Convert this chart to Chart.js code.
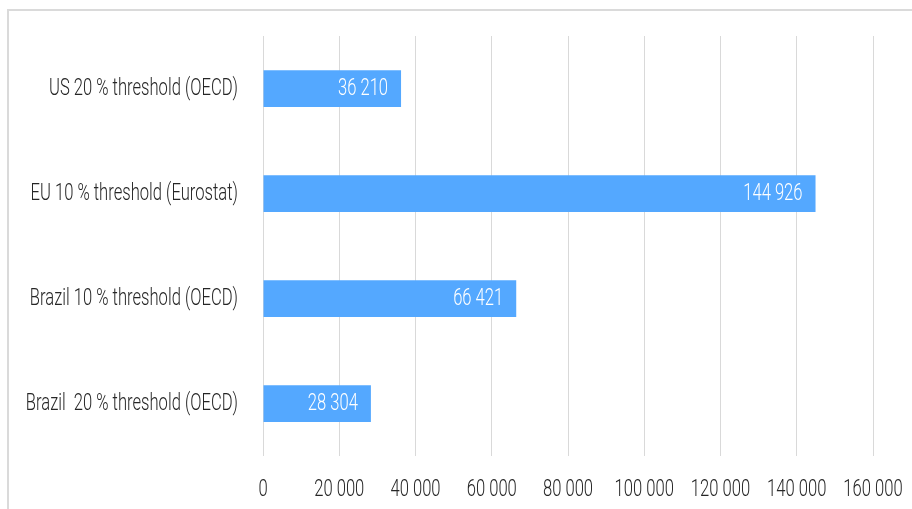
<!DOCTYPE html>
<html>
<head>
<meta charset="utf-8">
<script src="https://cdn.jsdelivr.net/npm/chart.js@4"></script>
<style>
    body { margin: 0; background: #fff; overflow: hidden; }
    #frame { position: absolute; left: 7px; top: 9px; width: 1000px; height: 600px; border: 2px solid #dadada; }
    #wrap { position: absolute; left: 0; top: 0; width: 912px; height: 509px; }
</style>
</head>
<body>
<div id="frame"></div>
<div id="wrap"><canvas id="myChart" width="912" height="509"></canvas></div>
<script>
// categories and values
var categories = [
    'US 20 % threshold (OECD)',
    'EU 10 % threshold (Eurostat)',
    'Brazil 10 % threshold (OECD)',
    'Brazil  20 % threshold (OECD)'
];
var values = [36210, 144926, 66421, 28304];
var xTicks = [0, 20000, 40000, 60000, 80000, 100000, 120000, 140000, 160000];

// the original uses a condensed face, so a normal one is squeezed sideways
var FONT = '300 23px Roboto, "Noto Sans", sans-serif';
var TEXT_COLOR = '#262626';

// 144926 => "144 926"
function formatNumber(n) {
    return String(n).replace(/\B(?=(\d{3})+(?!\d))/g, ' ');
}

// narrow text: measure once, squeeze so the first label is ~189px wide
var squeeze = null;
function narrowText(ctx, text, x, y, align, color) {
    ctx.save();
    ctx.font = FONT;
    if (squeeze === null) {
        squeeze = 189 / ctx.measureText(categories[0]).width;
    }
    ctx.fillStyle = color;
    ctx.textAlign = align;
    ctx.textBaseline = 'middle';
    ctx.translate(x, y);
    ctx.scale(squeeze, 1);
    ctx.fillText(text, 0, 0);
    ctx.restore();
}

var narrowLabels = {
    id: 'narrowLabels',
    afterDraw: function (chart) {
        var ctx = chart.ctx;
        var xs = chart.scales.x;
        var ys = chart.scales.y;
        var area = chart.chartArea;

        // category labels
        categories.forEach(function (c, i) {
            narrowText(ctx, c, ys.right - 25, ys.getPixelForTick(i) + 1, 'right', TEXT_COLOR);
        });
        // value axis labels
        xTicks.forEach(function (v) {
            narrowText(ctx, formatNumber(v), xs.getPixelForValue(v), area.bottom + 34, 'center', TEXT_COLOR);
        });
        // white values inside the bars
        var meta = chart.getDatasetMeta(0);
        meta.data.forEach(function (bar, i) {
            narrowText(ctx, formatNumber(values[i]), bar.x - 13, bar.y + 1, 'right', '#ffffff');
        });
    }
};

var ctx = document.getElementById('myChart').getContext('2d');
var myChart = new Chart(ctx, {
    type: 'bar',
    data: {
        labels: categories,
        datasets: [{
            data: values,
            backgroundColor: '#54a8ff',
            borderWidth: 0,
            categoryPercentage: 1,
            barPercentage: 0.35
        }]
    },
    plugins: [narrowLabels],
    options: {
        indexAxis: 'y',
        responsive: false,
        animation: false,
        layout: { padding: { top: 36, right: 39, left: 0, bottom: 0 } },
        plugins: {
            legend: { display: false },
            tooltip: { enabled: false }
        },
        scales: {
            x: {
                min: 0,
                max: 160000,
                afterBuildTicks: function (scale) {
                    scale.ticks = xTicks.map(function (v) { return { value: v }; });
                },
                afterFit: function (scale) { scale.height = 53; },
                grid: { color: '#d9d9d9', lineWidth: 1, drawTicks: false },
                border: { display: false },
                ticks: { display: false }
            },
            y: {
                afterFit: function (scale) { scale.width = 263; },
                grid: { display: false },
                border: { display: false },
                ticks: { display: false }
            }
        }
    }
});
</script>
</body>
</html>
